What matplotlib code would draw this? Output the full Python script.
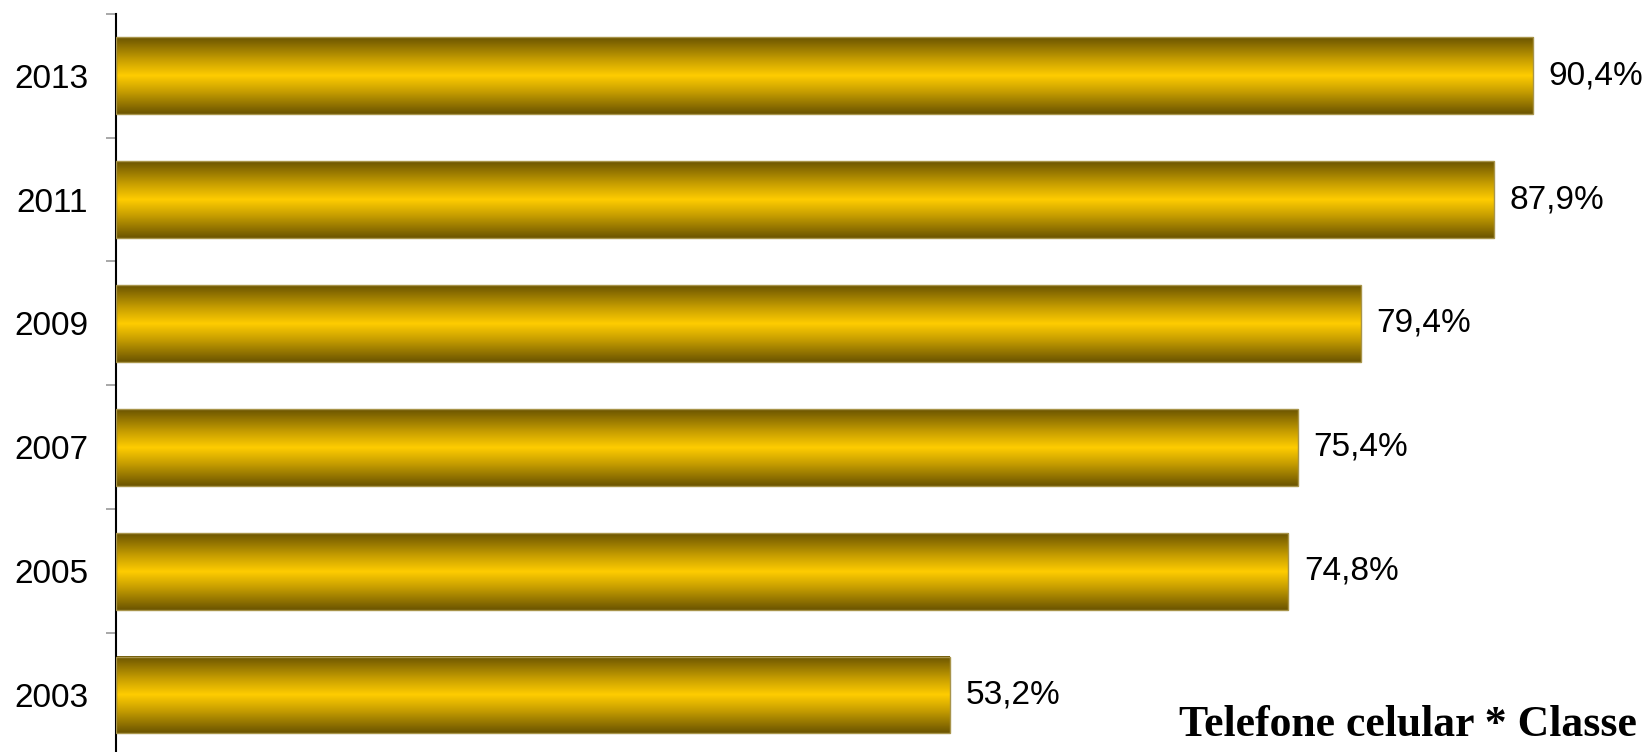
import numpy as np
import matplotlib
matplotlib.use("Agg")
import matplotlib.pyplot as plt
from matplotlib.colors import LinearSegmentedColormap

# dados
anos = ["2003", "2005", "2007", "2009", "2011", "2013"]
valores = [53.2, 74.8, 75.4, 79.4, 87.9, 90.4]
rotulos = ["53,2%", "74,8%", "75,4%", "79,4%", "87,9%", "90,4%"]
titulo = "Telefone celular * Classe"

W, H = 1643, 752
fig = plt.figure(figsize=(W / 100, H / 100), dpi=100)
ax = fig.add_axes([116 / W, -5 / H, 1 - 116 / W, (757 - 13.7) / H])

# degradê dourado (escuro nas bordas, claro no meio)
cmap = LinearSegmentedColormap.from_list(
    "ouro",
    [(0.0, "#6b5400"), (0.3, "#c9a000"), (0.5, "#ffcc00"), (0.7, "#c9a000"), (1.0, "#6b5400")],
)
grad = np.linspace(0, 1, 256).reshape(-1, 1)

h = 0.62
ypos = np.arange(len(anos))
for y, v in zip(ypos, valores):
    ax.imshow(grad, extent=[0, v, y - h / 2, y + h / 2], aspect="auto",
              cmap=cmap, origin="lower", zorder=2, interpolation="bilinear")
ax.barh(ypos, valores, height=h, fill=False, edgecolor="#a8944a", linewidth=1, zorder=3)

for y, v, r in zip(ypos, valores, rotulos):
    ax.annotate(r, (v, y), xytext=(11, 0), textcoords="offset points",
                ha="left", va="center", fontsize=24, family="Liberation Sans")

ax.set_xlim(0, (W - 116) / ((1533 - 116) / 90.4))
ax.set_ylim(-0.5, len(anos) - 0.5)

ax.set_yticks(ypos)
ax.set_yticklabels(anos, fontsize=24, family="Liberation Sans")
ax.tick_params(axis="y", which="major", length=0, pad=20)
ax.set_yticks(np.arange(len(anos) + 1) - 0.5, minor=True)
ax.tick_params(axis="y", which="minor", length=7.5, width=1.2, color="#999999", direction="out")
ax.set_xticks([])

for s in ["top", "right", "bottom"]:
    ax.spines[s].set_visible(False)
ax.spines["left"].set_linewidth(1.5)
ax.spines["left"].set_color("black")

fig.text(1637 / W, 1 - 736 / H, titulo, ha="right", va="baseline",
         fontsize=31.5, fontweight="bold", family="Liberation Serif")

fig.savefig("out.png", dpi=100)
